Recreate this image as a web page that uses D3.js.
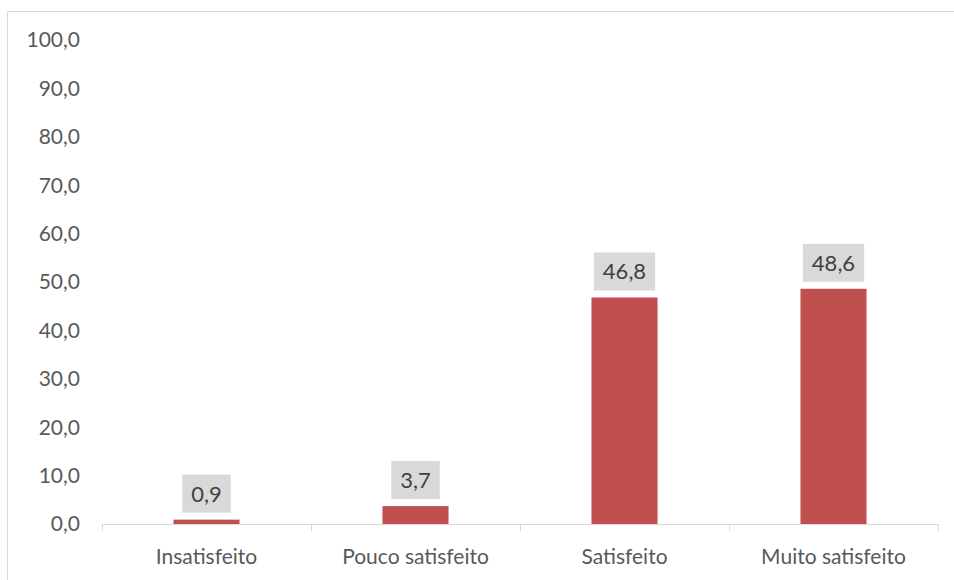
<!DOCTYPE html>
<html><head><meta charset="utf-8">
<script src="https://cdn.jsdelivr.net/npm/d3@7"></script>
<style>body{margin:0;background:#fff}svg{display:block}</style>
</head><body>
<svg id="c" width="954" height="580"></svg>
<script>
const categories = ["Insatisfeito", "Pouco satisfeito", "Satisfeito", "Muito satisfeito"];
const values = [0.9, 3.7, 46.8, 48.6];
const yTicks = [0, 10, 20, 30, 40, 50, 60, 70, 80, 90, 100];

const svg = d3.select("#c");
const font = "Lato, 'Open Sans', sans-serif";
const fmt = v => d3.format(".1f")(v).replace(".", ",");

// frame
svg.append("line").attr("x1", 7.5).attr("x2", 954).attr("y1", 11.5).attr("y2", 11.5).attr("stroke", "#d9d9d9");
svg.append("line").attr("x1", 7.5).attr("x2", 7.5).attr("y1", 11.5).attr("y2", 580).attr("stroke", "#d9d9d9");

const x = d3.scaleBand().domain(categories).range([102, 938]).paddingInner(0.684).paddingOuter(0.342);
const xb = d3.scaleBand().domain(categories).range([102, 938]);
const y = d3.scaleLinear().domain([0, 100]).range([524, 40]);

// y tick labels
svg.append("g").selectAll("text").data(yTicks).join("text")
  .attr("x", 80).attr("y", d => y(d)).attr("dy", "0.35em")
  .attr("text-anchor", "end").attr("fill", "#595959")
  .style("font-family", font).style("font-size", "21px")
  .text(fmt);

// bars
svg.append("g").selectAll("rect").data(values).join("rect")
  .attr("x", (d, i) => x(categories[i])).attr("width", x.bandwidth())
  .attr("y", d => y(d)).attr("height", d => y(0) - y(d))
  .attr("fill", "#c0504d");

// x axis line and ticks
svg.append("line").attr("x1", 102).attr("x2", 938).attr("y1", 524.5).attr("y2", 524.5).attr("stroke", "#d9d9d9").attr("stroke-width", 1.2);
const bounds = categories.map(c => xb(c)).concat([938]);
svg.append("g").selectAll("line").data(bounds).join("line")
  .attr("x1", d => d + 0.5).attr("x2", d => d + 0.5).attr("y1", 524).attr("y2", 531)
  .attr("stroke", "#d9d9d9");

// category labels
svg.append("g").selectAll("text").data(categories).join("text")
  .attr("x", d => xb(d) + xb.bandwidth() / 2).attr("y", 564)
  .attr("text-anchor", "middle").attr("fill", "#595959")
  .style("font-family", font).style("font-size", "21px")
  .text(d => d);

// data labels
const lg = svg.append("g");
values.forEach((v, i) => {
  const cx = x(categories[i]) + x.bandwidth() / 2;
  const t = lg.append("text").attr("x", cx).attr("y", y(v) - 7 - 19)
    .attr("dy", "0.36em").attr("text-anchor", "middle").attr("fill", "#404040")
    .style("font-family", font).style("font-size", "22px").text(fmt(v));
  const w = t.node().getComputedTextLength();
  lg.insert("rect", "text").attr("x", cx - w / 2 - 9).attr("width", w + 18)
    .attr("y", y(v) - 7 - 38).attr("height", 38).attr("fill", "#d9d9d9");
});
</script>
</body></html>
